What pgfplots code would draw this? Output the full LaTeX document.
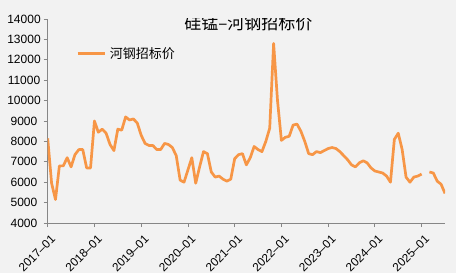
\documentclass[border=0pt]{standalone}
\usepackage{pgfplots}
\pgfplotsset{compat=1.18}
\usepackage{fontspec}
\setmainfont{Liberation Sans}
\newfontfamily\cjk{Noto Sans CJK SC}
\definecolor{bg}{RGB}{242,242,242}
\definecolor{ln}{RGB}{247,150,70}
\definecolor{ax}{RGB}{134,134,134}
\begin{document}
\begin{tikzpicture}
\fill[bg] (-47.7bp,-50bp) rectangle (408.3bp,223bp);
\useasboundingbox (-47.7bp,-50bp) rectangle (408.3bp,223bp);
\begin{axis}[
  at={(0,0)}, anchor=south west,
  scale only axis, width=397.3bp, height=204bp,
  xmin=0, xmax=102, ymin=4000, ymax=14000,
  axis x line*=bottom, axis y line*=left,
  axis line style={ax, line width=0.8bp},
  tick style={ax, line width=0.8bp},
  major tick length=4bp,
  tick align=outside,
  xtick pos=bottom, ytick pos=left,
  xtick={0,12,...,96},
  xticklabels={2017\textendash01,2018\textendash01,2019\textendash01,2020\textendash01,2021\textendash01,2022\textendash01,2023\textendash01,2024\textendash01,2025\textendash01},
  x tick label style={xshift=2.5bp, yshift=-7bp, rotate=45, anchor=north east, inner sep=0bp, font=\fontsize{11.8bp}{14bp}\selectfont},
  ytick={4000,5000,...,14000},
  scaled y ticks=false,
  y tick label style={font=\fontsize{12bp}{14bp}\selectfont, inner sep=0bp, text width=37bp, align=center, anchor=east, xshift=-1bp},
  /pgf/number format/1000 sep={},
  /pgf/number format/assume math mode=true,
  unbounded coords=jump,
  legend style={at={(rel axis cs:0.0713,0.831)}, anchor=west, draw=none, fill=none,
    inner sep=0pt, font=\cjk\fontsize{13bp}{15bp}\selectfont, nodes={inner sep=0pt},
    /tikz/every odd column/.append style={column sep=4bp}},
  legend image code/.code={\draw[#1] (0bp,0bp) -- (27bp,0bp);},
]
\addplot[ln, line width=2.7bp, line join=round] table {
x y
0 8150
1 5950
2 5150
3 6800
4 6800
5 7200
6 6750
7 7350
8 7600
9 7600
10 6700
11 6700
12 9000
13 8450
14 8600
15 8400
16 7850
17 7550
18 8600
19 8550
20 9200
21 9050
22 9100
23 8900
24 8300
25 7900
26 7800
27 7800
28 7600
29 7600
30 7900
31 7850
32 7700
33 7300
34 6100
35 6000
36 6600
37 7200
38 5950
39 6750
40 7500
41 7400
42 6500
43 6250
44 6300
45 6150
46 6050
47 6150
48 7150
49 7350
50 7400
51 6850
52 7200
53 7750
54 7600
55 7500
56 8000
57 8650
58 12800
59 10000
60 8050
61 8200
62 8250
63 8800
64 8850
65 8500
66 8000
67 7400
68 7350
69 7500
70 7450
71 7550
72 7650
73 7700
74 7650
75 7500
76 7300
77 7100
78 6850
79 6750
80 6950
81 7050
82 6950
83 6700
84 6550
85 6500
86 6450
87 6300
88 6000
89 8100
90 8400
91 7600
92 6250
93 6000
94 6250
95 6300
96 6400
97 nan
98 6500
99 6450
100 6050
101 5900
102 5450
};
\addlegendentry{河钢招标价}
\node[font=\cjk\fontsize{17bp}{19bp}\selectfont] at (rel axis cs:0.505,0.98) {硅锰–河钢招标价};
\end{axis}
\end{tikzpicture}
\end{document}
